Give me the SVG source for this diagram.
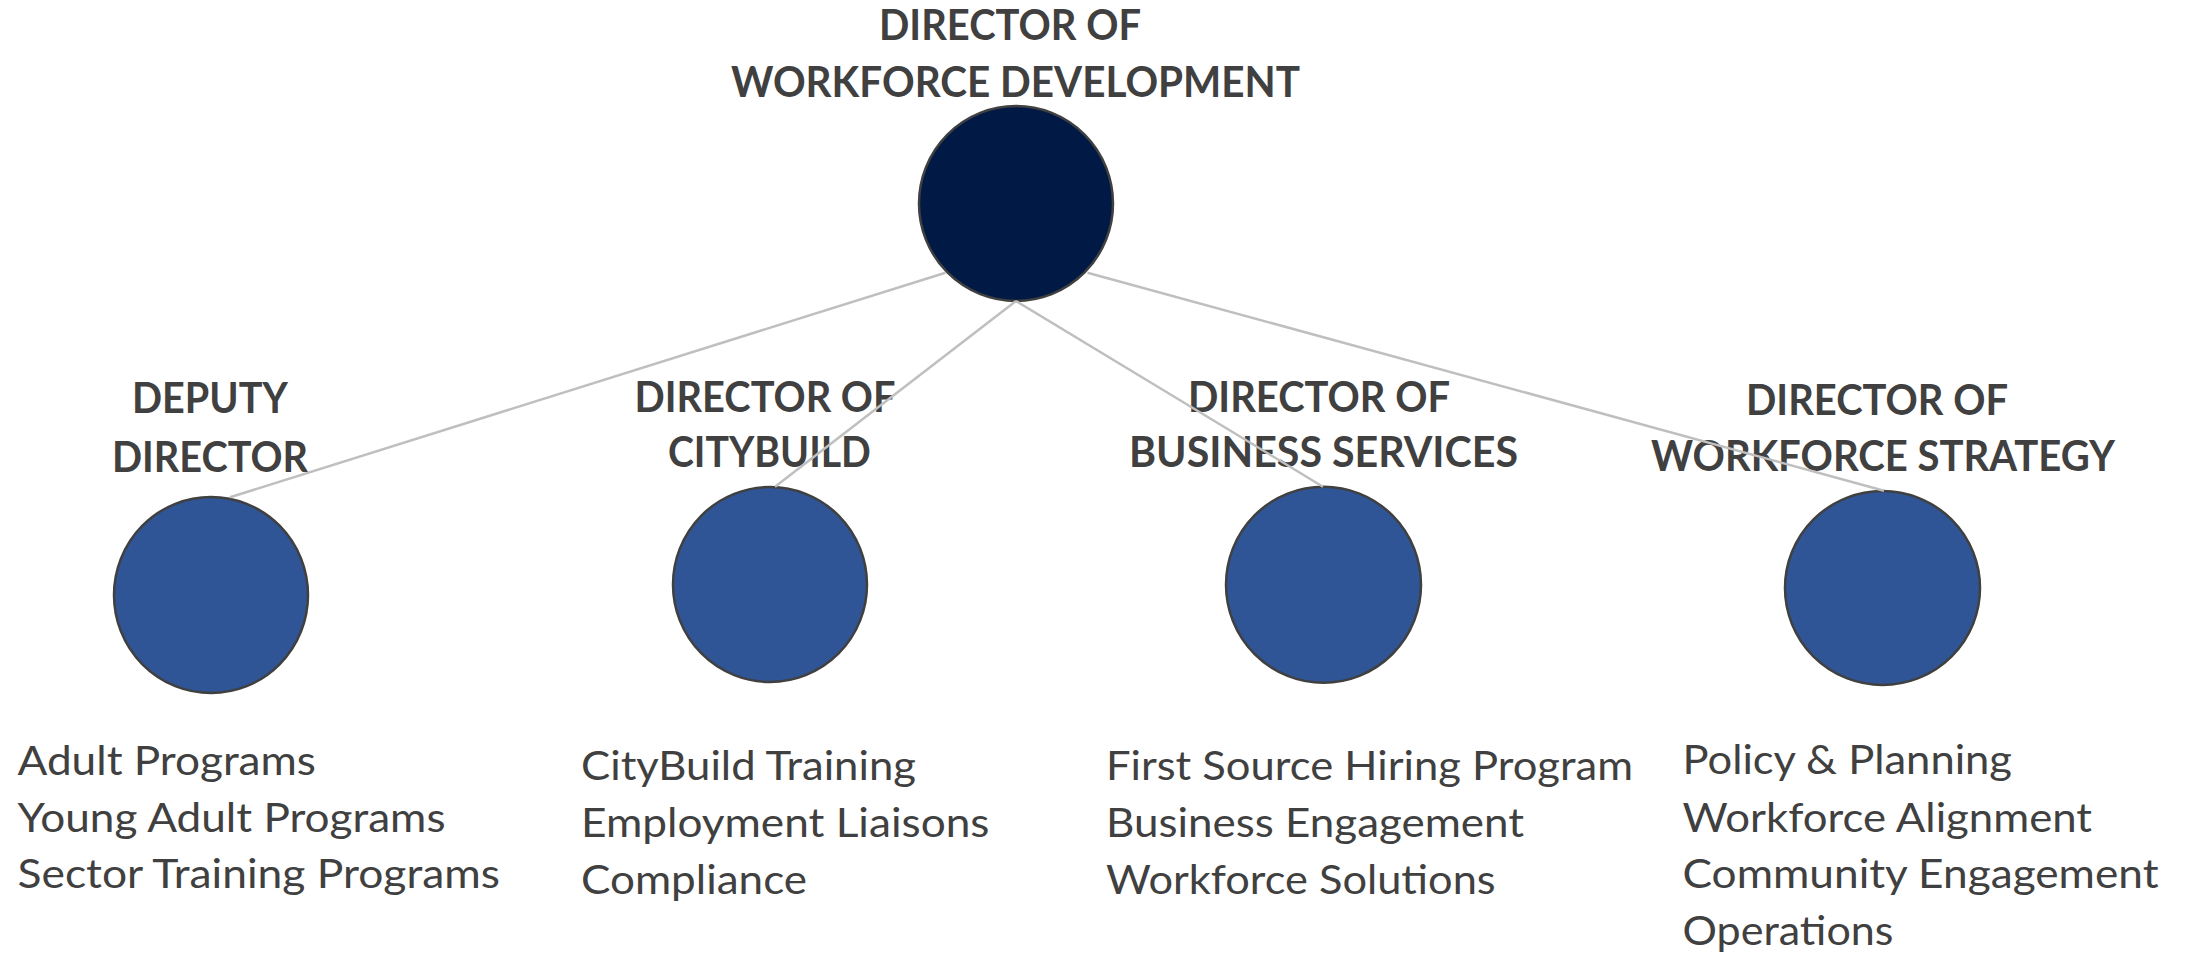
<svg xmlns="http://www.w3.org/2000/svg" width="2194" height="955" viewBox="0 0 2194 955">
<style>
.title{font-family:Lato,"Open Sans","Liberation Sans",sans-serif;font-weight:700;font-size:42px;fill:#404040;text-anchor:middle}
.item{font-family:Lato,"Open Sans","Liberation Sans",sans-serif;font-weight:400;font-size:40px;fill:#404040}
.top{fill:#011a45;stroke:#404040;stroke-width:2.5}
.sub{fill:#2f5597;stroke:#404040;stroke-width:2.5}
.conn{stroke:#bfbfbf;stroke-width:2.5;fill:none}
</style>
<rect width="2194" height="955" fill="#ffffff"/>
<g id="director">
<text class="title" x="1010" y="40" textLength="262" lengthAdjust="spacingAndGlyphs">DIRECTOR OF</text>
<text class="title" x="1015.5" y="97" textLength="569" lengthAdjust="spacingAndGlyphs">WORKFORCE DEVELOPMENT</text>
<ellipse class="top" cx="1016" cy="203.5" rx="97" ry="97.5"/>
</g>
<g id="deputy">
<text class="title" x="210" y="413" textLength="156" lengthAdjust="spacingAndGlyphs">DEPUTY</text>
<text class="title" x="210" y="472" textLength="196" lengthAdjust="spacingAndGlyphs">DIRECTOR</text>
<ellipse class="sub" cx="211" cy="595" rx="97" ry="98"/>
<text class="item" x="17.5" y="775" textLength="298.5" lengthAdjust="spacingAndGlyphs">Adult Programs</text>
<text class="item" x="17.5" y="831.7" textLength="428" lengthAdjust="spacingAndGlyphs">Young Adult Programs</text>
<text class="item" x="17.5" y="888.3" textLength="482.5" lengthAdjust="spacingAndGlyphs">Sector Training Programs</text>
</g>
<g id="citybuild">
<text class="title" x="765" y="412" textLength="261" lengthAdjust="spacingAndGlyphs">DIRECTOR OF</text>
<text class="title" x="769.4" y="467" textLength="203" lengthAdjust="spacingAndGlyphs">CITYBUILD</text>
<ellipse class="sub" cx="770" cy="584.5" rx="97" ry="97.5"/>
<text class="item" x="581" y="780" textLength="335" lengthAdjust="spacingAndGlyphs">CityBuild Training</text>
<text class="item" x="581" y="837.3" textLength="408.5" lengthAdjust="spacingAndGlyphs">Employment Liaisons</text>
<text class="item" x="581" y="894" textLength="226" lengthAdjust="spacingAndGlyphs">Compliance</text>
</g>
<g id="business">
<text class="title" x="1319" y="412" textLength="262" lengthAdjust="spacingAndGlyphs">DIRECTOR OF</text>
<text class="title" x="1323.5" y="467" textLength="389" lengthAdjust="spacingAndGlyphs">BUSINESS SERVICES</text>
<ellipse class="sub" cx="1323.5" cy="584.7" rx="97.5" ry="98"/>
<text class="item" x="1106" y="780" textLength="527" lengthAdjust="spacingAndGlyphs">First Source Hiring Program</text>
<text class="item" x="1106" y="837" textLength="418" lengthAdjust="spacingAndGlyphs">Business Engagement</text>
<text class="item" x="1106" y="894" textLength="389.6" lengthAdjust="spacingAndGlyphs">Workforce Solutions</text>
</g>
<g id="strategy">
<text class="title" x="1877" y="415" textLength="262" lengthAdjust="spacingAndGlyphs">DIRECTOR OF</text>
<text class="title" x="1883" y="470.7" textLength="464" lengthAdjust="spacingAndGlyphs">WORKFORCE STRATEGY</text>
<ellipse class="sub" cx="1882.5" cy="588" rx="97.5" ry="97"/>
<text class="item" x="1682.5" y="774" textLength="329.5" lengthAdjust="spacingAndGlyphs">Policy &amp; Planning</text>
<text class="item" x="1682.5" y="831.7" textLength="409.5" lengthAdjust="spacingAndGlyphs">Workforce Alignment</text>
<text class="item" x="1682.5" y="888.3" textLength="476" lengthAdjust="spacingAndGlyphs">Community Engagement</text>
<text class="item" x="1682.5" y="945" textLength="211" lengthAdjust="spacingAndGlyphs">Operations</text>
</g>
<g id="connectors">
<line class="conn" x1="945.5" y1="272.7" x2="230" y2="497.3"/>
<line class="conn" x1="1016" y1="301" x2="775" y2="486.7"/>
<line class="conn" x1="1016" y1="301" x2="1323" y2="486.7"/>
<line class="conn" x1="1087.5" y1="272.7" x2="1884" y2="490.7"/>
</g>
</svg>
